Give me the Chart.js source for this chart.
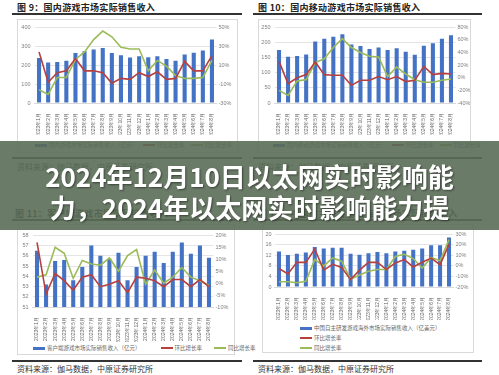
<!DOCTYPE html>
<html>
<head>
<meta charset="utf-8">
<script src="https://cdn.jsdelivr.net/npm/chart.js@4"></script>
<style>
  html, body { margin: 0; padding: 0; background: #fff; }
  body { width: 499px; height: 375px; position: relative; overflow: hidden; font-family: "Noto Sans CJK SC", "Noto Sans", sans-serif; }
  .abs { position: absolute; }
  .title { font-size: 9px; font-weight: 700; color: #222; white-space: nowrap; letter-spacing: 0.3px; }
  .rule { height: 2px; background: #333; }
  .box { border: 1px solid #d9d9d9; box-sizing: border-box; }
  .src { font-size: 8px; color: #333; white-space: nowrap; }
  .legend { font-size: 5.5px; color: #666; white-space: nowrap; display: flex; align-items: center; }
  .legend span { display: inline-flex; align-items: center; margin-right: 6px; }
  .sw-bar { display: inline-block; width: 12px; height: 3px; background: #4472c4; margin-right: 2px; }
  .sw-red { display: inline-block; width: 12px; height: 1.5px; background: #b7403f; margin-right: 2px; }
  .sw-green { display: inline-block; width: 12px; height: 1.5px; background: #9bbb59; margin-right: 2px; }
  canvas { position: absolute; }
  #banner { left: 0; top: 141px; width: 499px; height: 89px; background: rgba(90,109,87,0.9); }
  .bantext { left: 0; width: 499px; text-align: center; color: #fff; font-size: 26px; font-weight: 700; white-space: nowrap; line-height: 31px; text-shadow: 1px 1px 2px rgba(0,0,0,0.45); }
</style>
</head>
<body>

<!-- top left: fig 9 -->
<div class="abs title" style="left:17px; top:1px;">图 9：国内游戏市场实际销售收入</div>
<div class="abs rule" style="left:12px; top:13px; width:230px;"></div>
<div class="abs box" style="left:17px; top:19px; width:221px; height:134px;"></div>
<canvas id="c9" style="left:17px; top:20px;" width="220" height="115"></canvas>
<div class="abs legend" style="left:35px; top:141px;">
  <span><i class="sw-bar"></i>国内游戏市场实际销售收入（亿元）</span>
  <span><i class="sw-red"></i>环比增长率</span>
  <span><i class="sw-green"></i>同比增长率</span>
</div>
<div class="abs rule" style="left:12px; top:157px; width:230px;"></div>
<div class="abs src" style="left:17px; top:161px;">资料来源：伽马数据，中原证券研究所</div>

<!-- top right: fig 10 -->
<div class="abs title" style="left:258px; top:1px;">图 10：国内移动游戏市场实际销售收入</div>
<div class="abs rule" style="left:253px; top:13px; width:229px;"></div>
<div class="abs box" style="left:258px; top:19px; width:213px; height:134px;"></div>
<canvas id="c10" style="left:258px; top:20px;" width="212" height="115"></canvas>
<div class="abs legend" style="left:273px; top:141px;">
  <span><i class="sw-bar"></i>国内移动游戏市场实际销售收入（亿元）</span>
  <span><i class="sw-red"></i>环比增长率</span>
  <span><i class="sw-green"></i>同比增长率</span>
</div>
<div class="abs rule" style="left:253px; top:157px; width:229px;"></div>
<div class="abs src" style="left:258px; top:161px;">资料来源：伽马数据，中原证券研究所</div>

<!-- bottom left: fig 11 -->
<div class="abs title" style="left:15px; top:207px;">图 11：客户端游戏市场实际销售收入</div>
<div class="abs rule" style="left:12px; top:219px; width:230px;"></div>
<div class="abs box" style="left:17px; top:224px; width:218px; height:131px;"></div>
<canvas id="c11" style="left:17px; top:228px;" width="218" height="114"></canvas>
<div class="abs legend" style="left:33px; top:344px;">
  <span style="margin-right:20px"><i class="sw-bar"></i>客户端游戏市场实际销售收入（亿元）</span>
  <span style="margin-right:12px"><i class="sw-red"></i>环比增长率</span>
  <span><i class="sw-green"></i>同比增长率</span>
</div>
<div class="abs rule" style="left:12px; top:360px; width:230px;"></div>
<div class="abs src" style="left:17px; top:363px;">资料来源：伽马数据，中原证券研究所</div>

<!-- bottom right: fig 12 -->
<div class="abs title" style="left:258px; top:207px;">图 12：中国自主研发游戏海外市场实际销售收入</div>
<div class="abs rule" style="left:253px; top:219px; width:229px;"></div>
<div class="abs box" style="left:262px; top:224px; width:212px; height:129px;"></div>
<canvas id="c12" style="left:262px; top:228px;" width="210" height="92"></canvas>
<div class="abs legend" style="left:300px; top:324px;"><span><i class="sw-bar"></i>中国自主研发游戏海外市场实际销售收入（亿美元）</span></div>
<div class="abs legend" style="left:300px; top:334px;"><span><i class="sw-red"></i>环比增长率</span></div>
<div class="abs legend" style="left:300px; top:344px;"><span><i class="sw-green"></i>同比增长率</span></div>
<div class="abs rule" style="left:253px; top:360px; width:229px;"></div>
<div class="abs src" style="left:258px; top:363px;">资料来源：伽马数据，中原证券研究所</div>

<!-- overlay banner -->
<div id="banner" class="abs"></div>
<div class="abs bantext" style="top:160px;">2024年12月10日以太网实时影响能</div>
<div class="abs bantext" style="top:191px;">力，2024年以太网实时影响能力提</div>

<script>
const months = ['2023年1月', '2023年2月', '2023年3月', '2023年4月', '2023年5月', '2023年6月', '2023年7月',
  '2023年8月', '2023年9月', '2023年10月', '2023年11月', '2023年12月', '2024年1月', '2024年2月',
  '2024年3月', '2024年4月', '2024年5月', '2024年6月', '2024年7月', '2024年8月'];

// fig 9: domestic game market
const gameRev = [238, 214, 217, 223, 264, 273, 283, 290, 264, 252, 240, 247, 242, 247, 233, 223, 256, 266, 278, 336];
const gameMom = [24, -8, 2, 4, 17, 4, 4, 2, -9, -4, -5, 2, -2, 3, -5, -4, 14, 4, 4, 20];
const gameYoy = [-16, -21, -3, -3, 16, 24, 37, 46, 40, 29, 27, 27, 4, 15, 9, -1, -4, -4, -3, 15];

// fig 10: mobile game market
const mobileRev = [175, 153, 155, 160, 203, 212, 219, 227, 193, 188, 178, 183, 175, 181, 169, 159, 189, 197, 212, 224];
const mobileMom = [26, -9.5, 0, 5, 25, 5, 4, 4, -12, -4, -4, 2, -3, 2, -6, -4, 18, 5, 7, 6];
const mobileYoy = [-20, -28, -5, -3, 24, 30, 48, 62, 48, 40, 34, 33, 2, 17, 6, -3, -7, -7, -4, -2];

// fig 11: client game market
const clientRev = [56.5, 53.2, 55.5, 55.6, 53.6, 54.9, 57.0, 56.0, 55.7, 56.3, 53.6, 54.9, 56.0, 56.4, 55.3, 56.4, 57.3, 56.2, 57.0, 55.8];
const clientMom = [17, -4.6, 4, 1, -3, 2.5, 3.5, -1.5, -0.5, 1, -4, 2.5, 2, 1, -1.5, 1.5, 1.5, -1.5, 1.5, -1.5];
const clientYoy = [2.5, 3.5, 15, 12.5, 2, 9.5, 8, 7.5, 10.5, 5, 11.5, 14, -0.5, 5.5, 0, 2.5, 6.5, 2.5, 1, -1];

// fig 12: self-developed games overseas
const overseasRev = [13.5, 12.1, 12.6, 13.1, 15.2, 14.6, 14.9, 14.9, 12.6, 12.2, 12.8, 13.3, 12.8, 13.5, 13.8, 14.1, 14.6, 15.8, 15.8, 18.8];
const overseasMom = [-2.5, -7.7, 3.4, 3.4, 16, -4, 1.5, -1.5, -13, -4, 3.4, 3.4, -3.4, 2.8, 6, -1, 3.4, 7.4, 1.2, 20.4];
const overseasYoy = [-15, -15, -16, -14.5, 6, 0, 7.5, 4.5, -12.5, -8.6, -5, -3.4, -3.4, 9, 11, 7, -2, 8, 5, 25];

const BLUE = '#4472c4';
const RED = '#b7403f';
const GREEN = '#9bbb59';
const TICK = '#7f7f7f';

function makeChart(id, rev, mom, yoy, o) {
  return new Chart(document.getElementById(id), {
    type: 'bar',
    data: {
      labels: months,
      datasets: [
        { type: 'line', data: mom, yAxisID: 'y1', borderColor: RED, borderWidth: 1.6, pointRadius: 0, tension: 0, order: 0 },
        { type: 'line', data: yoy, yAxisID: 'y1', borderColor: GREEN, borderWidth: 1.6, pointRadius: 0, tension: 0, order: 1 },
        { type: 'bar', data: rev, yAxisID: 'y', backgroundColor: BLUE, barPercentage: 0.45, categoryPercentage: 1, order: 2 }
      ]
    },
    options: {
      responsive: false,
      animation: false,
      events: [],
      layout: { padding: { top: o.top, bottom: 0, left: 0, right: 0 } },
      plugins: { legend: { display: false }, tooltip: { enabled: false } },
      scales: {
        x: {
          grid: { display: false },
          border: { color: '#d9d9d9' },
          ticks: { minRotation: 90, maxRotation: 90, autoSkip: false, color: '#666', font: { size: 5 }, padding: 2 },
          afterFit: s => { s.height = o.xh; }
        },
        y: {
          position: 'left', min: o.lmin, max: o.lmax,
          grid: { color: '#e4e4e4', drawTicks: false },
          border: { display: false },
          ticks: { stepSize: o.lstep, color: TICK, font: { size: 5.5 }, padding: o.lpad },
          afterFit: s => { s.width = o.lw; }
        },
        y1: {
          position: 'right', min: o.rmin, max: o.rmax,
          grid: { display: false, drawTicks: false },
          border: { display: false },
          ticks: { stepSize: o.rstep, color: TICK, font: { size: 5.5 }, padding: 2, callback: v => v + '%' },
          afterFit: s => { s.width = o.rw; }
        }
      }
    }
  });
}

makeChart('c9', gameRev, gameMom, gameYoy,
  { top: 6, xh: 32, lmin: 0, lmax: 400, lstep: 50, lw: 17.5, lpad: 4, rmin: -30, rmax: 50, rstep: 10, rw: 20.5 });
makeChart('c10', mobileRev, mobileMom, mobileYoy,
  { top: 7, xh: 32, lmin: 0, lmax: 250, lstep: 50, lw: 16.5, lpad: 4, rmin: -40, rmax: 80, rstep: 20, rw: 14.5 });
makeChart('c11', clientRev, clientMom, clientYoy,
  { top: 5, xh: 35, lmin: 51, lmax: 58, lstep: 1, lw: 15.5, lpad: 4, rmin: -10, rmax: 20, rstep: 5, rw: 21.5 });
makeChart('c12', overseasRev, overseasMom, overseasYoy,
  { top: 5, xh: 33, lmin: 0, lmax: 20, lstep: 2, lw: 12.5, lpad: 3, rmin: -20, rmax: 30, rstep: 5, rw: 18.5 });
</script>
</body>
</html>
